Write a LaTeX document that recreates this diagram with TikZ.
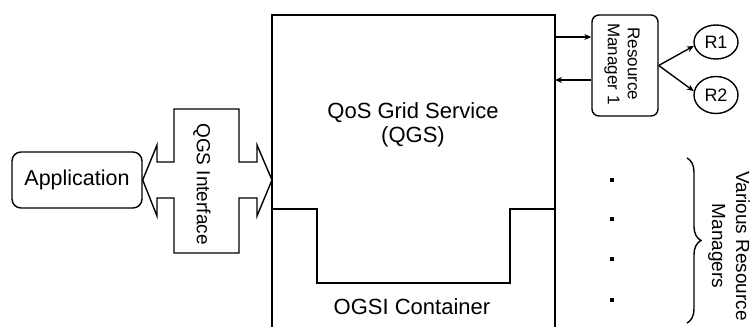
\documentclass[tikz,border=0pt]{standalone}
\usepackage{fontspec}
\setmainfont{Liberation Sans}
\usetikzlibrary{arrows.meta,shapes.geometric,decorations.pathreplacing}
\tikzset{
  ln/.style={line width=1.4pt},
  arr/.style={ln,-{Stealth[length=7pt,width=6pt]}},
  bigtxt/.style={font=\fontsize{22}{24}\selectfont},
  midtxt/.style={font=\fontsize{19}{24}\selectfont},
  smtxt/.style={font=\fontsize{17}{20}\selectfont},
  dotsq/.style={fill=black,minimum size=4pt,inner sep=0pt},
}
\begin{document}
\begin{tikzpicture}[x=1pt,y=-1pt]
\useasboundingbox (0,0) rectangle (753,327);
% main box (open at bottom)
\coordinate (mbl) at (272,327);
\coordinate (mtl) at (272,15);
\coordinate (mtr) at (555,15);
\coordinate (mbr) at (555,327);
\draw[ln] (mbl) -- (mtl) -- (mtr) -- (mbr);
\draw[ln] (272,209) -- (317,209) -- (317,283) -- (510,283) -- (510,209) -- (555,209);
\node[bigtxt,align=center] (qgs) at (413,125) {QoS Grid Service\\(QGS)};
\node[bigtxt] (ogsi) at (412,307) {OGSI Container};
% application
\node[ln,draw,rounded corners=9pt,minimum width=130pt,minimum height=56pt,inner sep=0pt,font=\fontsize{21.5}{24}\selectfont] (app) at (77,180) {Application};
% interface double arrow
\draw[ln,line join=miter] (app.east) -- (157,145) -- (157,162) -- (174,162) -- (174,109) -- (239,109) -- (239,162) -- (257,162) -- (257,145) -- (mtl |- app.east) -- (257,216) -- (257,198) -- (239,198) -- (239,253) -- (174,253) -- (174,198) -- (157,198) -- (157,216) -- cycle;
\node[midtxt,rotate=-90] (iface) at (202,184) {QGS Interface};
% resource manager 1
\node[ln,draw,rounded corners=7pt,minimum width=66pt,minimum height=101pt,inner sep=0pt] (rm) at (625,65.5) {};
\node[smtxt,rotate=-90,align=center] (rmtxt) at (622,64) {Resource\\Manager 1};
\coordinate (a1) at (555,37);
\coordinate (a2) at (555,80);
\draw[arr] (a1) -- (rm.west |- a1);
\draw[arr] (rm.west |- a2) -- (a2);
% resources
\node[ln,draw,ellipse,minimum width=44pt,minimum height=34pt,inner sep=0pt,font=\fontsize{18}{20}\selectfont] (r1) at (716,42) {R1};
\node[ln,draw,ellipse,minimum width=44pt,minimum height=37pt,inner sep=0pt,font=\fontsize{18}{20}\selectfont] (r2) at (716,95) {R2};
\draw[arr] (rm.east) -- (r1.190);
\draw[arr] (rm.east) -- (r2.170);
% dots
\node[dotsq] (d1) at (612,180) {};
\node[dotsq] (d2) at (612,219) {};
\node[dotsq] (d3) at (612,259) {};
\node[dotsq] (d4) at (612,300) {};
% brace
\coordinate (bt) at (687,158);
\coordinate (bb) at (687,323);
\draw[ln,decorate,decoration={brace,amplitude=14pt}] (bt) -- (bb);
\node[midtxt,rotate=-90,align=center] (vrm) at (729,246) {Various Resource\\Managers};
\end{tikzpicture}
\end{document}
